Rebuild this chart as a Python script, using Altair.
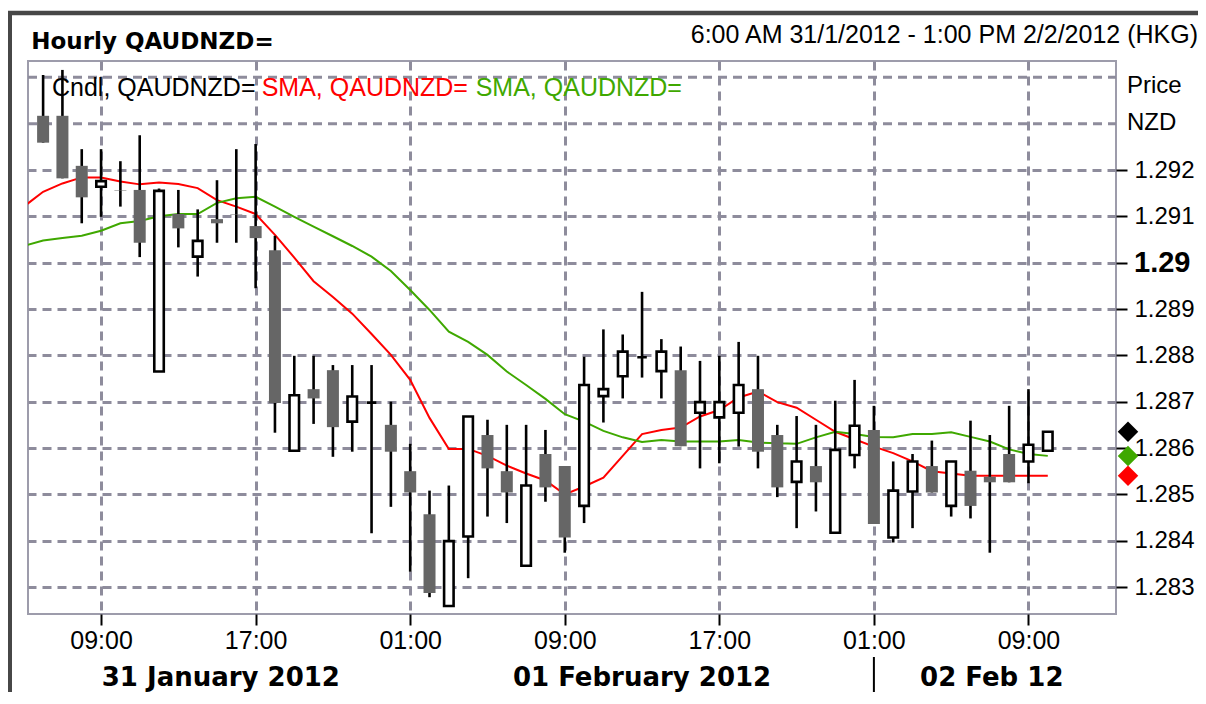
import altair as alt
import pandas as pd

# ---------------- data ----------------
# hours counted from 31 Jan 2012 00:00 (axis clock), one candle per hour
candle_hours = list(range(6, 59))
open_ = [1.29317, 1.29317, 1.29209, 1.29164, 1.29156, 1.29157, 1.28765, 1.29105, 1.29013, 1.29094,
         1.29104, 1.29079, 1.29027, 1.28594, 1.28727, 1.28768, 1.28657, 1.28698, 1.28650, 1.28550,
         1.28457, 1.28259, 1.28409, 1.28628, 1.28550, 1.28346, 1.28587, 1.28561, 1.28475, 1.28712,
         1.28755, 1.28796, 1.28766, 1.28768, 1.28676, 1.28666, 1.28676, 1.28727, 1.28628, 1.28527,
         1.28561, 1.28417, 1.28585, 1.28639, 1.28407, 1.28506, 1.28561, 1.28475, 1.28551, 1.28538,
         1.28587, 1.28571, 1.28594]
high = [1.29405, 1.29416, 1.29245, 1.29245, 1.29219, 1.29275, 1.29160, 1.29157, 1.29115, 1.29178,
        1.29245, 1.29256, 1.29058, 1.28799, 1.28799, 1.28779, 1.28779, 1.28779, 1.28700, 1.28609,
        1.28508, 1.28519, 1.28668, 1.28661, 1.28650, 1.28650, 1.28639, 1.28561, 1.28797, 1.28856,
        1.28845, 1.28937, 1.28835, 1.28819, 1.28788, 1.28799, 1.28829, 1.28799, 1.28650, 1.28669,
        1.28650, 1.28702, 1.28747, 1.28691, 1.28571, 1.28587, 1.28616, 1.28571, 1.28659, 1.28628,
        1.28691, 1.28727, 1.28635]
low = [1.29259, 1.29182, 1.29085, 1.29099, 1.29121, 1.29012, 1.28765, 1.29033, 1.28970, 1.29043,
       1.29043, 1.28945, 1.28633, 1.28594, 1.28652, 1.28581, 1.28592, 1.28416, 1.28473, 1.28333,
       1.28278, 1.28259, 1.28319, 1.28452, 1.28438, 1.28346, 1.28484, 1.28374, 1.28438, 1.28655,
       1.28707, 1.28752, 1.28707, 1.28604, 1.28556, 1.28567, 1.28603, 1.28556, 1.28494, 1.28427,
       1.28463, 1.28417, 1.28556, 1.28436, 1.28396, 1.28427, 1.28504, 1.28452, 1.28448, 1.28374,
       1.28526, 1.28524, 1.28594]
close = [1.29259, 1.29182, 1.29141, 1.29176, 1.29155, 1.29043, 1.29155, 1.29074, 1.29047, 1.29085,
         1.29103, 1.29053, 1.28697, 1.28714, 1.28707, 1.28645, 1.28711, 1.28698, 1.28592, 1.28504,
         1.28287, 1.28399, 1.28668, 1.28556, 1.28504, 1.28519, 1.28515, 1.28407, 1.28736, 1.28727,
         1.28808, 1.28796, 1.28808, 1.28604, 1.28699, 1.28699, 1.28736, 1.28592, 1.28515, 1.28571,
         1.28526, 1.28596, 1.28648, 1.28436, 1.28508, 1.28571, 1.28504, 1.28571, 1.28475, 1.28526,
         1.28526, 1.28607, 1.28635]

sma_hours = list(range(5, 59))
sma_red = [1.29121, 1.29153, 1.29171, 1.29184, 1.29184, 1.29175, 1.29169, 1.29173, 1.29170, 1.29161,
           1.29135, 1.29121, 1.29105, 1.29060, 1.29011, 1.28960, 1.28926, 1.28890, 1.28846, 1.28801,
           1.28747, 1.28665, 1.28598, 1.28598, 1.28583, 1.28562, 1.28545, 1.28530, 1.28500, 1.28517,
           1.28536, 1.28583, 1.28630, 1.28639, 1.28644, 1.28668, 1.28682, 1.28709, 1.28722, 1.28699,
           1.28687, 1.28661, 1.28635, 1.28619, 1.28603, 1.28589, 1.28571, 1.28550, 1.28545, 1.28540,
           1.28540, 1.28540, 1.28540, 1.28540]
sma_green = [1.29036, 1.29048, 1.29053, 1.29058, 1.29069, 1.29085, 1.29090, 1.29100, 1.29105, 1.29105,
             1.29129, 1.29139, 1.29142, 1.29121, 1.29099, 1.29078, 1.29057, 1.29036, 1.29013, 1.28982,
             1.28941, 1.28898, 1.28851, 1.28829, 1.28801, 1.28765, 1.28736, 1.28706, 1.28673, 1.28657,
             1.28637, 1.28623, 1.28613, 1.28617, 1.28614, 1.28614, 1.28614, 1.28617, 1.28612, 1.28610,
             1.28609, 1.28623, 1.28635, 1.28630, 1.28624, 1.28623, 1.28630, 1.28630, 1.28634, 1.28624,
             1.28614, 1.28597, 1.28587, 1.28583]

x_tick_hours = [9, 17, 25, 33, 41, 49, 57]
x_tick_labels = ["09:00", "17:00", "01:00", "09:00", "17:00", "01:00", "09:00"]
y_tick_values = [1.283, 1.284, 1.285, 1.286, 1.287, 1.288, 1.289, 1.290, 1.291, 1.292]
y_extra_grid = [1.293, 1.294]
y_bold_value = [1.29]
y_bold_label = ["1.29"]
date_labels = ["31 January 2012", "01 February 2012", "02 Feb 12"]
date_label_hours = [15.2, 37.0, 55.1]
day_break_hours = [49]

title_left = "Hourly QAUDNZD="
title_right = "6:00 AM 31/1/2012 - 1:00 PM 2/2/2012 (HKG)"
legend_texts = ["Cndl, QAUDNZD=", "SMA, QAUDNZD=", "SMA, QAUDNZD="]

RED = "#ff0000"
GREEN = "#3fa800"
GRAY = "#666666"
GRID = "#8e8c9c"

# ---------------- tables ----------------
candles = pd.DataFrame({"h": candle_hours, "open": open_, "high": high, "low": low, "close": close})
red_df = pd.DataFrame({"h": sma_hours, "v": sma_red})
green_df = pd.DataFrame({"h": sma_hours, "v": sma_green})
last_df = pd.DataFrame({"v": [close[-1], sma_green[-1], sma_red[-1]], "c": ["black", GREEN, RED]})
dates_df = pd.DataFrame({"h": date_label_hours, "t": date_labels})
break_df = pd.DataFrame({"h": day_break_hours})
extra_grid_df = pd.DataFrame({"v": y_extra_grid})
bold_df = pd.DataFrame({"v": y_bold_value, "t": y_bold_label})

W, H = 1088, 553
xs = alt.Scale(domain=[5.477, 61.272], nice=False, zero=False)
ys = alt.Scale(domain=[1.2824173, 1.2943526], nice=False, zero=False)

label_expr = " : ".join(
    f"datum.value == {h} ? '{t}'" for h, t in zip(x_tick_hours, x_tick_labels)
) + " : ''"

x_axis = alt.Axis(
    values=x_tick_hours, labelExpr=label_expr, title=None, domain=False,
    grid=True, gridColor=GRID, gridDash=[9, 6], gridWidth=3,
    ticks=True, tickSize=11, tickWidth=2, tickColor="black",
    labelFont="Liberation Sans", labelFontSize=25, labelColor="black", labelPadding=3,
    labelFlush=False,
)
y_axis = alt.Axis(
    orient="right", values=y_tick_values, title=None, domain=False,
    labelExpr="abs(datum.value - 1.29) < 0.0000001 ? '' : format(datum.value, '.3f')",
    grid=True, gridColor=GRID, gridDash=[9, 6], gridWidth=3,
    ticks=True, tickSize=11, tickWidth=2, tickColor="black",
    labelFont="Liberation Sans", labelFontSize=24, labelColor="black", labelPadding=7,
)


def X(field):
    return alt.X(field, scale=xs, axis=x_axis)


def Y(field):
    return alt.Y(field, scale=ys, axis=y_axis)


base = alt.Chart(candles)

extra_grid = alt.Chart(extra_grid_df).mark_rule(color=GRID, strokeWidth=3, strokeDash=[9, 6]).encode(
    x=alt.value(0), x2=alt.value(W), y=Y("v:Q")
)

red_line = alt.Chart(red_df).mark_line(color=RED, strokeWidth=2, clip=True).encode(
    x=X("h:Q"), y=Y("v:Q")
)
green_line = alt.Chart(green_df).mark_line(color=GREEN, strokeWidth=2, clip=True).encode(
    x=X("h:Q"), y=Y("v:Q")
)

wicks = base.mark_rule(color="black", strokeWidth=2.6).encode(
    x=X("h:Q"), y=Y("low:Q"), y2="high:Q",
)

up_bodies = base.transform_filter("datum.close >= datum.open").mark_bar(
    width=9.5, fill="white", stroke="black", strokeWidth=2.6
).encode(x=X("h:Q"), y=Y("open:Q"), y2="close:Q")

down_bodies = base.transform_filter("datum.close < datum.open").mark_bar(
    width=12, fill=GRAY, strokeWidth=0
).encode(x=X("h:Q"), y=Y("open:Q"), y2="close:Q")

diamonds = alt.Chart(last_df).mark_point(shape="diamond", filled=True, size=420, opacity=1).encode(
    x=alt.value(W + 12),
    y=Y("v:Q"),
    color=alt.Color("c:N", scale=None),
)

bold_label = alt.Chart(bold_df).mark_text(
    align="left", baseline="middle", font="Liberation Sans", fontSize=29,
    fontWeight="bold", color="black",
).encode(x=alt.value(W + 18), y=Y("v:Q"), text="t:N")


def label(text, x, y, color="black", size=25, font="Liberation Sans", weight="normal", align="left"):
    return alt.Chart(pd.DataFrame({"t": [text]})).mark_text(
        align=align, baseline="alphabetic", font=font, fontSize=size,
        fontWeight=weight, color=color,
    ).encode(x=alt.value(x), y=alt.value(y), text="t:N")


t_title = label(title_left, 3.3, -11.7, size=23, font="DejaVu Sans", weight="bold")
t_range = label(title_right, 1170, -18.3, size=25, align="right")
t_leg1 = label(legend_texts[0], 24, 35)
t_leg2 = label(legend_texts[1], 233.7, 35, color=RED)
t_leg3 = label(legend_texts[2], 447.7, 35, color=GREEN)
t_price = label("Price", 1099, 31.7, size=24)
t_nzd = label("NZD", 1099, 69, size=24)

t_dates = alt.Chart(dates_df).mark_text(
    align="center", baseline="alphabetic", font="DejaVu Sans", fontSize=26,
    fontWeight="bold", color="black",
).encode(x=X("h:Q"), y=alt.value(625), text="t:N")

day_break = alt.Chart(break_df).mark_rule(color="black", strokeWidth=2).encode(
    x=X("h:Q"), y=alt.value(596), y2=alt.value(640)
)

frame_v = alt.Chart(pd.DataFrame({"a": [0]})).mark_rule(color="#474747", strokeWidth=4.6).encode(
    x=alt.value(-18.3), y=alt.value(-50), y2=alt.value(700)
)
frame_h = alt.Chart(pd.DataFrame({"a": [0]})).mark_rule(color="#474747", strokeWidth=4.6).encode(
    x=alt.value(-20.6), x2=alt.value(1200), y=alt.value(-48)
)

chart = alt.layer(
    extra_grid, red_line, green_line, wicks, up_bodies, down_bodies, diamonds,
    bold_label, t_title, t_range, t_leg1, t_leg2, t_leg3, t_price, t_nzd, t_dates, day_break,
    frame_v, frame_h,
).properties(
    width=W, height=H,
    autosize=alt.AutoSizeParams(type="none"),
    padding={"left": 20, "top": 53, "right": 82, "bottom": 78},
).configure(background="white").configure_view(
    stroke="#9d9cab", strokeWidth=2
)

chart.save("out.html", embed_options={"renderer": "svg", "actions": False})
